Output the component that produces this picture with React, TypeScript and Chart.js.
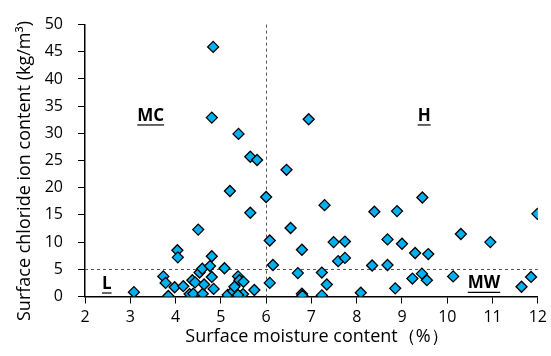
import React, { useEffect, useRef } from 'react';
import { Chart, registerables } from 'chart.js';

Chart.register(...registerables);

// Surface moisture content (%)
const moisture = [
  3.08, 3.73, 3.78, 3.84, 3.98, 4.04, 4.05, 4.17, 4.31, 4.37,
  4.39, 4.43, 4.50, 4.53, 4.59, 4.60, 4.63, 4.76, 4.80, 4.80,
  4.84, 4.83, 4.80, 5.39, 5.08, 5.20, 5.15, 5.27, 5.30, 5.38,
  5.41, 5.50, 5.49, 5.38, 5.74, 5.65, 5.80, 5.65, 6.00, 6.08,
  6.15, 6.08, 6.45, 6.54, 6.79, 6.70, 6.79, 6.80, 6.94, 7.23,
  7.29, 7.34, 7.23, 7.49, 7.74, 7.59, 7.74, 8.09, 8.34, 8.39,
  8.68, 8.68, 8.85, 8.89, 9.00, 9.29, 9.23, 9.45, 9.44, 9.55,
  9.58, 10.13, 10.30, 10.95, 11.64, 11.85, 11.99,
];
// Surface chloride ion content (kg/m3)
const chloride = [
  0.8, 3.7, 2.5, 0.1, 1.7, 8.5, 7.2, 1.9, 0.45, 3.0,
  0.5, 2.6, 12.3, 4.4, 5.1, 0.5, 2.2, 5.6, 7.4, 3.6,
  1.4, 45.9, 32.9, 29.9, 5.2, 19.4, 0.3, 1.0, 1.8, 3.7,
  3.0, 2.7, 0.45, 0.27, 1.2, 25.7, 25.1, 15.4, 18.3, 10.3,
  5.8, 2.5, 23.3, 12.6, 8.6, 4.3, 0.5, 0.15, 32.6, 4.4,
  16.8, 2.2, 0.2, 10.0, 10.1, 6.5, 7.1, 0.7, 5.7, 15.6,
  10.5, 5.8, 1.5, 15.7, 9.7, 8.0, 3.3, 18.2, 4.2, 3.0,
  7.8, 3.7, 11.5, 10.0, 1.8, 3.6, 15.2,
];

const xTickValues = [2, 3, 4, 5, 6, 7, 8, 9, 10, 11, 12];
const yTickValues = [0, 5, 10, 15, 20, 25, 30, 35, 40, 45, 50];

const moistureThreshold = 6;
const chlorideThreshold = 5;

const zoneNames = ['MC', 'H', 'L', 'MW'];
const zoneMoisture = [3.45, 9.49, 2.48, 10.81];
const zoneChloride = [33.2, 33.2, 2.3, 2.4];

const xTitle = 'Surface moisture content（%）';
const yTitle = 'Surface chloride ion content (kg/m³)';

const FONT = "'Open Sans', 'Noto Sans', sans-serif";

export default function App() {
  const ref = useRef<HTMLCanvasElement | null>(null);

  useEffect(() => {
    document.body.style.margin = '0';
    const canvas = ref.current;
    if (!canvas) return;

    const overlay = {
      id: 'overlay',
      beforeDatasetsDraw(chart: any) {
        const { ctx, scales } = chart;
        const xs = scales.x;
        const ys = scales.y;
        ctx.save();
        ctx.strokeStyle = '#555';
        ctx.lineWidth = 1;
        ctx.setLineDash([3, 3]);
        const px = Math.round(xs.getPixelForValue(moistureThreshold)) + 0.5;
        ctx.beginPath();
        ctx.moveTo(px, ys.getPixelForValue(50));
        ctx.lineTo(px, ys.getPixelForValue(0));
        ctx.stroke();
        const py = Math.round(ys.getPixelForValue(chlorideThreshold)) + 0.5;
        ctx.beginPath();
        ctx.moveTo(xs.getPixelForValue(2), py);
        ctx.lineTo(xs.getPixelForValue(12), py);
        ctx.stroke();
        ctx.restore();
      },
      afterDraw(chart: any) {
        const { ctx, scales } = chart;
        const xs = scales.x;
        const ys = scales.y;
        ctx.save();
        ctx.fillStyle = '#000';
        ctx.strokeStyle = '#000';
        ctx.font = `bold 17px ${FONT}`;
        ctx.textAlign = 'center';
        ctx.textBaseline = 'middle';
        zoneNames.forEach((name, i) => {
          const cx = xs.getPixelForValue(zoneMoisture[i]);
          const cy = ys.getPixelForValue(zoneChloride[i]);
          ctx.fillText(name, cx, cy);
          const w = ctx.measureText(name).width;
          ctx.lineWidth = 1.2;
          ctx.beginPath();
          ctx.moveTo(cx - w / 2, cy + 9);
          ctx.lineTo(cx + w / 2, cy + 9);
          ctx.stroke();
        });
        // axis titles
        ctx.font = `18px ${FONT}`;
        ctx.fillStyle = '#000';
        ctx.fillText(xTitle, 317, 337);
        ctx.translate(25, 171);
        ctx.rotate(-Math.PI / 2);
        ctx.fillText(yTitle, 0, 0);
        ctx.restore();
      },
    };

    const chart = new Chart(canvas, {
      type: 'scatter',
      data: {
        datasets: [
          {
            data: moisture.map((m, i) => ({ x: m, y: chloride[i] })),
            pointStyle: 'rectRot',
            pointRadius: 5.5,
            pointHoverRadius: 5.5,
            backgroundColor: '#00B0F0',
            borderColor: '#000',
            borderWidth: 1.3,
          },
        ],
      },
      options: {
        animation: false,
        responsive: false,
        events: [],
        layout: { padding: { left: 0, right: 12, top: 19, bottom: 0 } },
        plugins: {
          legend: { display: false },
          tooltip: { enabled: false },
        },
        scales: {
          x: {
            type: 'linear',
            min: 2,
            max: 12,
            afterBuildTicks: (s: any) => {
              s.ticks = xTickValues.map((v) => ({ value: v }));
            },
            afterFit: (s: any) => {
              s.height = 59.5;
            },
            ticks: {
              color: '#000',
              font: { family: FONT, size: 16 },
              padding: 4,
              maxRotation: 0,
            },
            grid: {
              drawOnChartArea: false,
              drawTicks: true,
              tickLength: 7,
              color: '#000',
              lineWidth: 1,
            },
            border: { display: true, color: '#000', width: 1.5 },
          },
          y: {
            type: 'linear',
            min: 0,
            max: 50,
            afterBuildTicks: (s: any) => {
              s.ticks = yTickValues.map((v) => ({ value: v }));
            },
            afterFit: (s: any) => {
              s.width = 85;
            },
            ticks: {
              color: '#000',
              font: { family: FONT, size: 16 },
              padding: 15,
            },
            grid: {
              drawOnChartArea: false,
              drawTicks: true,
              tickLength: 7,
              color: '#000',
              lineWidth: 1,
            },
            border: { display: true, color: '#000', width: 1.5 },
          },
        },
      },
      plugins: [overlay],
    });

    return () => chart.destroy();
  }, []);

  return (
    <div style={{ width: 551, height: 356 }}>
      <canvas ref={ref} width={551} height={356} style={{ display: 'block', width: 551, height: 356 }} />
    </div>
  );
}
